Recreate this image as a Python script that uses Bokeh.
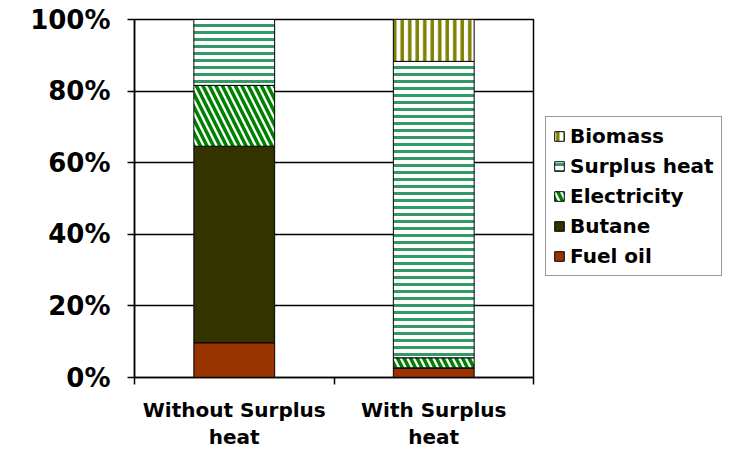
from bokeh.plotting import figure
from bokeh.layouts import row
from bokeh.models import (ColumnDataSource, FixedTicker, Legend, LegendItem,
                          LinearAxis, Range1d)
from bokeh.embed import file_html
from bokeh.resources import INLINE

categories = ["Without Surplus\nheat", "With Surplus\nheat"]
series = ["Fuel oil", "Butane", "Electricity", "Surplus heat", "Biomass"]
fuel_oil = [9.7, 2.7]
butane = [54.9, 0.0]
electricity = [17.0, 2.8]
surplus_heat = [18.4, 82.8]
biomass = [0.0, 11.7]
y_ticks = [0, 20, 40, 60, 80, 100]
y_tick_labels = ["0%", "20%", "40%", "60%", "80%", "100%"]

values = [fuel_oil, butane, electricity, surplus_heat, biomass]
styles = {
    "Fuel oil": dict(fill_color="#993300"),
    "Butane": dict(fill_color="#333300"),
    "Electricity": dict(fill_color="white", hatch_pattern="left_diagonal_line",
                        hatch_color="#008000", hatch_scale=13, hatch_weight=3.5),
    "Surplus heat": dict(fill_color="white", hatch_pattern="horizontal_line",
                         hatch_color="#339966", hatch_scale=7, hatch_weight=3),
    "Biomass": dict(fill_color="white", hatch_pattern="vertical_line",
                    hatch_color="#808000", hatch_scale=7.5, hatch_weight=3.5),
}

FONT = "DejaVu Sans"

p = figure(width=535, height=451, output_backend="svg", toolbar_location=None,
           x_range=Range1d(0, 2), y_range=Range1d(0, 100),
           min_border_left=134, min_border_right=2, min_border_top=19,
           min_border_bottom=73, x_axis_location=None, y_axis_location=None)
p.background_fill_color = "white"
p.border_fill_color = "white"
p.outline_line_color = "black"
p.outline_line_width = 1.5

xs = [i + 0.5 for i in range(len(categories))]
stack_data = {}
bottom = [0.0] * len(categories)
renderers = {}
for name, vals in zip(series, values):
    top = [b + v for b, v in zip(bottom, vals)]
    stack_data[name] = dict(x=xs, bottom=bottom, top=top)
    src = ColumnDataSource(stack_data[name])
    r = p.vbar(x="x", bottom="bottom", top="top", width=0.405, source=src,
               line_color="black", line_width=1, **styles[name])
    renderers[name] = r
    bottom = top

# y axis
yax = LinearAxis(ticker=FixedTicker(ticks=y_ticks))
yax.major_label_overrides = {t: l for t, l in zip(y_ticks, y_tick_labels)}
yax.major_label_text_font = FONT
yax.major_label_text_font_style = "bold"
yax.major_label_text_font_size = "26px"
yax.major_label_text_color = "black"
yax.major_tick_out = 7
yax.major_tick_in = 0
yax.minor_tick_out = 0
yax.minor_tick_in = 0
yax.major_label_standoff = 17
yax.axis_line_color = "black"
yax.axis_line_width = 1.5
yax.major_tick_line_width = 1.5
p.add_layout(yax, "left")

# x axis: labels centred under bars, tick marks at category boundaries
xax = LinearAxis(ticker=FixedTicker(ticks=xs, minor_ticks=[0, 1, 2]))
xax.major_label_overrides = {x: c for x, c in zip(xs, categories)}
xax.major_label_text_font = FONT
xax.major_label_text_font_style = "bold"
xax.major_label_text_font_size = "20px"
xax.major_label_text_line_height = 1.13
xax.major_label_text_color = "black"
xax.major_tick_out = 0
xax.major_tick_in = 0
xax.minor_tick_out = 7
xax.minor_tick_in = 0
xax.minor_tick_line_color = "black"
xax.minor_tick_line_width = 1.5
xax.major_label_standoff = 13
xax.axis_line_color = "black"
xax.axis_line_width = 1.5
p.add_layout(xax, "below")

p.xgrid.visible = False
p.ygrid.grid_line_color = "black"
p.ygrid.grid_line_width = 1.5
p.ygrid.ticker = FixedTicker(ticks=y_ticks)

# legend panel (second figure to the right of the chart)
q = figure(width=195, height=451, output_backend="svg", toolbar_location=None,
           x_range=Range1d(0, 2), y_range=Range1d(0, 100),
           min_border_left=0, min_border_right=0, min_border_top=0,
           min_border_bottom=0, x_axis_location=None, y_axis_location=None)
q.outline_line_color = None
q.grid.visible = False
q.background_fill_color = "white"
q.border_fill_color = "white"
legend_renderers = {}
for name in series:
    src = ColumnDataSource(stack_data[name])
    legend_renderers[name] = q.vbar(x="x", bottom="bottom", top="top", width=0.405,
                                    source=src, line_color="black",
                                    line_width=1, visible=False, **styles[name])

items = [LegendItem(label=name, renderers=[legend_renderers[name]])
         for name in reversed(series)]
legend = Legend(items=items, location=(10, 101))
legend.click_policy = "none"
legend.inactive_fill_alpha = 0
legend.label_text_font = FONT
legend.label_text_font_style = "bold"
legend.label_text_font_size = "20px"
legend.label_text_color = "black"
legend.label_height = 22
legend.glyph_height = 12
legend.glyph_width = 12
legend.spacing = 6
legend.padding = 7
legend.margin = 0
legend.label_standoff = 5
legend.border_line_color = "#333333"
legend.border_line_width = 1.5
legend.background_fill_alpha = 1
q.add_layout(legend, "center")

layout = row(p, q, spacing=0)
open("out.html", "w").write(file_html(layout, INLINE))
